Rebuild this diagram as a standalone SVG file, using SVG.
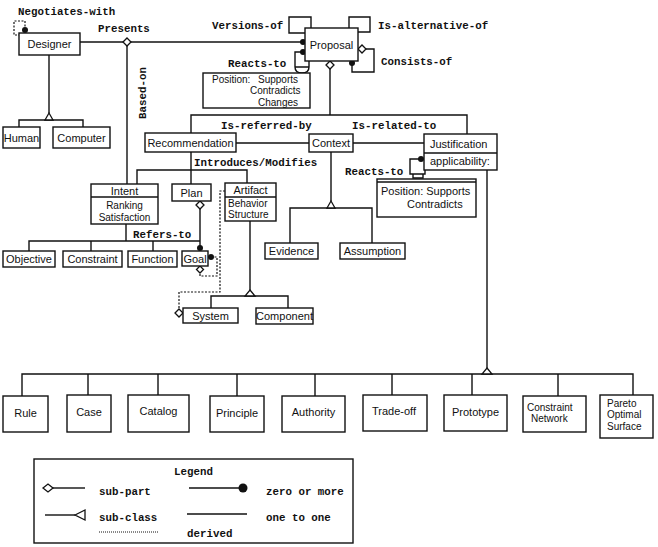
<svg xmlns="http://www.w3.org/2000/svg" width="658" height="547" viewBox="0 0 658 547">
<style>
.b{fill:#fff;stroke:#111;stroke-width:1.4}
.l{fill:none;stroke:#111;stroke-width:1.4}
.d{fill:none;stroke:#111;stroke-width:1.2;stroke-dasharray:2 1.5}
.dot{fill:#111}
.dia{fill:#fff;stroke:#111;stroke-width:1.3}
.t{font-family:"Liberation Sans",Arial,sans-serif;font-size:11px;fill:#111}
.s{font-size:10px}
.c{text-anchor:middle}
.m{font-family:"Liberation Mono","Courier New",monospace;font-weight:bold;font-size:10.8px;fill:#111}
</style>
<rect width="658" height="547" fill="#fff"/>
<g id="connectors">
  <path class="d" d="M25,30 V21 H14 V35 H19"/>
  <circle class="dot" cx="25" cy="30" r="3"/>
  <path class="l" d="M80,42 H303"/>
  <circle class="dot" cx="303" cy="42" r="3"/>
  <path class="l" d="M127,46 V184"/>
  <path class="dia" d="M127,38 L131,42 L127,46 L123,42 Z"/>
  <path class="l" d="M49,55 V113 M19,127 V120 H83 V127"/>
  <path class="dia" d="M49,113 L53,120 L45,120 Z"/>
  <path class="l" d="M311,28 V17 H289 V33 H305"/>
  <path class="l" d="M349,28 V17 H370 V32 H358"/>
  <path class="l" d="M366,49 H374 V72 H352 V63"/>
  <circle class="dot" cx="352" cy="63" r="3"/>
  <path class="dia" d="M358,49 L362,45 L366,49 L362,53 Z"/>
  <path class="l" d="M303,52 H295 V67 M309,61 V67 M295,67 Q295,73 302,73 Q309,73 309,67 Z"/>
  <circle class="dot" cx="303" cy="52" r="3"/>
  <path class="l" d="M330,69 V115 M191,133 V115 H467 V134"/>
  <path class="dia" d="M330,61 L334,65 L330,69 L326,65 Z"/>
  <path class="l" d="M236,143 H309 M353,143 H424"/>
  <path class="l" d="M421,159 H410 V174 H425 V170 M413,174 V178 H423 V174"/>
  <circle class="dot" cx="421" cy="159" r="3"/>
  <path class="l" d="M331,152 V201 M290,243 V208 H372 V243"/>
  <path class="dia" d="M331,201 L335,208 L327,208 Z"/>
  <path class="l" d="M191,152 V184 M137,184 V170 H247 V183"/>
  <path class="l" d="M126,224 V241 M29,251 V241 H200 M91,241 V251 M153,241 V251"/>
  <path class="l" d="M200,209 V248"/>
  <path class="dia" d="M200,201 L204,205 L200,209 L196,205 Z"/>
  <circle class="dot" cx="200" cy="248" r="3"/>
  <path class="d" d="M211,257 H217 V276 H200 V273"/>
  <circle class="dot" cx="211" cy="257" r="3"/>
  <path class="dia" d="M200,266 L203.5,269.5 L200,273 L196.5,269.5 Z"/>
  <path class="d" d="M225,191 H220 V292 H179 V309"/>
  <path class="dia" d="M179,309 L183,313 L179,317 L175,313 Z"/>
  <path class="l" d="M250,221 V290 M211,308 V296 H288 V308"/>
  <path class="dia" d="M250,290 L255,296 L245,296 Z"/>
  <path class="l" d="M487,170 V368 M22,396 V374 H633 V395 M88,374 V395 M158,374 V395 M237,374 V396 M315,374 V396 M392,374 V396 M472,374 V396 M558,374 V396"/>
  <path class="dia" d="M487,368 L492,374 L482,374 Z"/>
</g>
<g id="labels">
  <text class="m" x="18" y="15">Negotiates-with</text>
  <text class="m" x="98" y="32">Presents</text>
  <text class="m" x="212" y="29">Versions-of</text>
  <text class="m" x="378" y="29">Is-alternative-of</text>
  <text class="m" x="228" y="67">Reacts-to</text>
  <text class="m" x="381" y="65">Consists-of</text>
  <text class="m" x="221" y="129">Is-referred-by</text>
  <text class="m" x="352" y="129">Is-related-to</text>
  <text class="m" x="194" y="166">Introduces/Modifies</text>
  <text class="m" x="345" y="175">Reacts-to</text>
  <text class="m" x="133" y="238">Refers-to</text>
  <text class="m" transform="translate(146,93) rotate(-90)" text-anchor="middle">Based-on</text>
</g>
<g id="designer"><rect class="b" x="19" y="33" width="61" height="22"/><text class="t c" x="49.5" y="48">Designer</text></g>
<g id="human"><rect class="b" x="3" y="127" width="37" height="21"/><text class="t c" x="21.5" y="142">Human</text></g>
<g id="computer"><rect class="b" x="53" y="127" width="57" height="21"/><text class="t c" x="81.5" y="142">Computer</text></g>
<g id="proposal"><rect class="b" x="305" y="28" width="53" height="33"/><text class="t c" x="331.5" y="49">Proposal</text></g>
<g id="position1"><rect class="b" x="203" y="73" width="107" height="35"/>
  <text class="t s" x="212" y="83">Position:</text><text class="t s" x="258" y="83">Supports</text>
  <text class="t s" x="250" y="94.3">Contradicts</text><text class="t s" x="258" y="105.6">Changes</text></g>
<g id="recommendation"><rect class="b" x="145" y="133" width="91" height="19"/><text class="t c" x="190.5" y="147">Recommendation</text></g>
<g id="context"><rect class="b" x="309" y="134" width="44" height="18"/><text class="t c" x="331" y="147">Context</text></g>
<g id="justification"><rect class="b" x="424" y="134" width="73" height="36"/><path class="l" d="M424,153 H497"/>
  <text class="t" x="430" y="148">Justification</text><text class="t" x="430" y="165">applicability:</text></g>
<g id="position2"><rect class="b" x="377" y="179" width="99" height="38"/><path class="l" d="M377,182 H476"/>
  <text class="t" x="381" y="195">Position: Supports</text><text class="t" x="407" y="207.5">Contradicts</text></g>
<g id="intent"><rect class="b" x="91" y="184" width="67" height="40"/><path class="l" d="M91,197 H158"/>
  <text class="t c" x="124.5" y="195">Intent</text><text class="t c s" x="124.5" y="209">Ranking</text><text class="t c s" x="124.5" y="220.5">Satisfaction</text></g>
<g id="plan"><rect class="b" x="172" y="184" width="39" height="17"/><text class="t c" x="191.5" y="197">Plan</text></g>
<g id="artifact"><rect class="b" x="225" y="183" width="51" height="38"/><path class="l" d="M225,197 H276"/>
  <text class="t c" x="250.5" y="194">Artifact</text><text class="t s" x="228" y="207">Behavior</text><text class="t s" x="228" y="218.3">Structure</text></g>
<g id="objective"><rect class="b" x="3" y="251" width="52" height="16"/><text class="t c" x="29" y="263">Objective</text></g>
<g id="constraint"><rect class="b" x="63" y="251" width="59" height="16"/><text class="t c" x="92.5" y="263">Constraint</text></g>
<g id="function"><rect class="b" x="128" y="251" width="49" height="16"/><text class="t c" x="152.5" y="263">Function</text></g>
<g id="goal"><rect class="b" x="182" y="251" width="26" height="15"/><text class="t c" x="195" y="263">Goal</text></g>
<g id="evidence"><rect class="b" x="265" y="243" width="53" height="16"/><text class="t c" x="291.5" y="255">Evidence</text></g>
<g id="assumption"><rect class="b" x="340" y="243" width="65" height="16"/><text class="t c" x="372.5" y="255">Assumption</text></g>
<g id="system"><rect class="b" x="183" y="308" width="55" height="15"/><text class="t c" x="210.5" y="320">System</text></g>
<g id="component"><rect class="b" x="256" y="308" width="57" height="16"/><text class="t c" x="284.5" y="320">Component</text></g>
<g id="rule"><rect class="b" x="3" y="396" width="45" height="36"/><text class="t c" x="25.5" y="417">Rule</text></g>
<g id="case"><rect class="b" x="67" y="395" width="44" height="37"/><text class="t c" x="89" y="416">Case</text></g>
<g id="catalog"><rect class="b" x="128" y="395" width="61" height="37"/><text class="t c" x="158.5" y="415">Catalog</text></g>
<g id="principle"><rect class="b" x="210" y="396" width="54" height="36"/><text class="t c" x="237" y="417">Principle</text></g>
<g id="authority"><rect class="b" x="282" y="396" width="63" height="36"/><text class="t c" x="313.5" y="416">Authority</text></g>
<g id="tradeoff"><rect class="b" x="363" y="395" width="64" height="36"/><text class="t c" x="394" y="415">Trade-off</text></g>
<g id="prototype"><rect class="b" x="444" y="395" width="63" height="36"/><text class="t c" x="475.5" y="416">Prototype</text></g>
<g id="constraintnetwork"><rect class="b" x="523" y="396" width="63" height="36"/><text class="t s" x="527" y="411">Constraint</text><text class="t s" x="531" y="422.3">Network</text></g>
<g id="pareto"><rect class="b" x="600" y="395" width="53" height="43"/><text class="t s" x="607" y="407">Pareto</text><text class="t s" x="607" y="418.3">Optimal</text><text class="t s" x="607" y="429.6">Surface</text></g>
<g id="legend">
  <rect class="b" x="34" y="459" width="319" height="84"/>
  <text class="m" x="174" y="475">Legend</text>
  <path class="l" d="M53,488 H85"/>
  <path class="dia" d="M43,488 L48,484 L53,488 L48,492 Z"/>
  <text class="m" x="99" y="495">sub-part</text>
  <path class="l" d="M189,488 H243"/>
  <circle class="dot" cx="243" cy="488" r="4.5"/>
  <text class="m" x="266" y="495">zero or more</text>
  <path class="l" d="M45,515 H75"/>
  <path class="dia" d="M75,515 L85,510 L85,520 Z"/>
  <text class="m" x="99" y="521">sub-class</text>
  <path class="l" d="M187,514 H247"/>
  <text class="m" x="266" y="521">one to one</text>
  <path class="d" d="M99,532 H158" style="stroke-dasharray:1 1;stroke-width:1"/>
  <text class="m" x="187" y="537">derived</text>
</g>
</svg>
